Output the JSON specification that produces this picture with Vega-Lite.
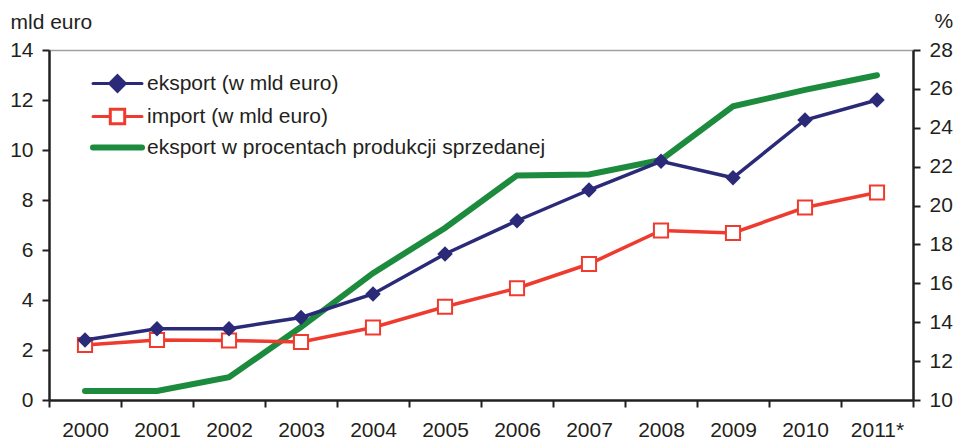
{
  "$schema": "https://vega.github.io/schema/vega-lite/v6.json",
  "width": 864,
  "height": 350,
  "autosize": {"type": "none"},
  "padding": {"left": 49, "top": 50, "right": 44, "bottom": 41},
  "background": "white",
  "config": {
    "font": "Liberation Sans",
    "view": {"stroke": null},
    "axis": {
      "labelFont": "Liberation Sans",
      "titleFont": "Liberation Sans",
      "labelFontSize": 21,
      "labelColor": "#231f20",
      "domainColor": "#231f20",
      "domainWidth": 2.5,
      "tickColor": "#231f20",
      "tickWidth": 2,
      "tickSize": 7,
      "titleFontSize": 21,
      "titleFontWeight": "normal",
      "titleColor": "#231f20"
    }
  },
  "data": {
    "values": [
      {"year": "2000", "series": "eksport (w mld euro)", "value": 2.4},
      {"year": "2001", "series": "eksport (w mld euro)", "value": 2.85},
      {"year": "2002", "series": "eksport (w mld euro)", "value": 2.85},
      {"year": "2003", "series": "eksport (w mld euro)", "value": 3.3},
      {"year": "2004", "series": "eksport (w mld euro)", "value": 4.24},
      {"year": "2005", "series": "eksport (w mld euro)", "value": 5.84},
      {"year": "2006", "series": "eksport (w mld euro)", "value": 7.17},
      {"year": "2007", "series": "eksport (w mld euro)", "value": 8.4},
      {"year": "2008", "series": "eksport (w mld euro)", "value": 9.55},
      {"year": "2009", "series": "eksport (w mld euro)", "value": 8.89},
      {"year": "2010", "series": "eksport (w mld euro)", "value": 11.2},
      {"year": "2011*", "series": "eksport (w mld euro)", "value": 12.0},
      {"year": "2000", "series": "import (w mld euro)", "value": 2.2},
      {"year": "2001", "series": "import (w mld euro)", "value": 2.4},
      {"year": "2002", "series": "import (w mld euro)", "value": 2.38},
      {"year": "2003", "series": "import (w mld euro)", "value": 2.32},
      {"year": "2004", "series": "import (w mld euro)", "value": 2.9},
      {"year": "2005", "series": "import (w mld euro)", "value": 3.73},
      {"year": "2006", "series": "import (w mld euro)", "value": 4.47},
      {"year": "2007", "series": "import (w mld euro)", "value": 5.44},
      {"year": "2008", "series": "import (w mld euro)", "value": 6.78},
      {"year": "2009", "series": "import (w mld euro)", "value": 6.68},
      {"year": "2010", "series": "import (w mld euro)", "value": 7.7},
      {"year": "2011*", "series": "import (w mld euro)", "value": 8.3},
      {"year": "2000", "series": "eksport w procentach produkcji sprzedanej", "value": 10.46},
      {"year": "2001", "series": "eksport w procentach produkcji sprzedanej", "value": 10.46},
      {"year": "2002", "series": "eksport w procentach produkcji sprzedanej", "value": 11.17},
      {"year": "2003", "series": "eksport w procentach produkcji sprzedanej", "value": 13.75},
      {"year": "2004", "series": "eksport w procentach produkcji sprzedanej", "value": 16.52},
      {"year": "2005", "series": "eksport w procentach produkcji sprzedanej", "value": 18.85},
      {"year": "2006", "series": "eksport w procentach produkcji sprzedanej", "value": 21.55},
      {"year": "2007", "series": "eksport w procentach produkcji sprzedanej", "value": 21.6},
      {"year": "2008", "series": "eksport w procentach produkcji sprzedanej", "value": 22.35},
      {"year": "2009", "series": "eksport w procentach produkcji sprzedanej", "value": 25.1},
      {"year": "2010", "series": "eksport w procentach produkcji sprzedanej", "value": 25.95},
      {"year": "2011*", "series": "eksport w procentach produkcji sprzedanej", "value": 26.7}
    ]
  },
  "encoding": {
    "x": {
      "field": "year",
      "type": "ordinal",
      "scale": {
        "domain": ["2000", "2001", "2002", "2003", "2004", "2005", "2006", "2007", "2008", "2009", "2010", "2011*"],
        "paddingInner": 0,
        "paddingOuter": 0
      },
      "axis": {
        "title": null,
        "labelAngle": 0,
        "tickBand": "extent",
        "labelPadding": 12,
        "encode": {"ticks": {"update": {"y": {"value": -7}}}}
      }
    }
  },
  "layer": [
    {
      "transform": [{"filter": "datum.series === 'eksport w procentach produkcji sprzedanej'"}],
      "mark": {"type": "line", "strokeWidth": 6, "strokeCap": "round", "strokeJoin": "miter"},
      "encoding": {
        "y": {
          "field": "value",
          "type": "quantitative",
          "scale": {"domain": [10, 28], "nice": false, "zero": false},
          "axis": {
            "orient": "right",
            "values": [10, 12, 14, 16, 18, 20, 22, 24, 26, 28],
            "title": "%",
            "titleAngle": 0,
            "titleX": 21,
            "titleY": -23,
            "titleAlign": "left",
            "titleBaseline": "alphabetic",
            "labelPadding": 9,
            "grid": false,
            "encode": {"ticks": {"update": {"x": {"value": -7}}}}
          }
        },
        "color": {
          "field": "series",
          "type": "nominal",
          "scale": {
            "domain": ["eksport (w mld euro)", "import (w mld euro)", "eksport w procentach produkcji sprzedanej"],
            "range": ["#2b2a78", "#ef3b2f", "#1d8b3d"]
          },
          "legend": {
            "orient": "none",
            "legendX": 58,
            "legendY": 23,
            "title": null,
            "padding": 0,
            "labelFontSize": 21,
            "labelFont": "Liberation Sans",
            "labelColor": "#231f20",
            "labelLimit": 700,
            "symbolSize": 400,
            "labelOffset": 19,
            "rowPadding": 5,
            "encode": {
              "symbols": {
                "update": {
                  "shape": {"signal": "datum.value === 'eksport (w mld euro)' ? 'M-2.45,0H2.45M0,-0.78L0.78,0L0,0.78L-0.78,0Z' : datum.value === 'import (w mld euro)' ? 'M-2.45,0H-0.72M0.72,0H2.45M-0.72,-0.72H0.72V0.72H-0.72Z' : 'M-2.45,0H2.45'"},
                  "strokeWidth": {"signal": "datum.value === 'eksport w procentach produkcji sprzedanej' ? 6 : 3"},
                  "stroke": {"signal": "datum.value === 'eksport (w mld euro)' ? '#2b2a78' : datum.value === 'import (w mld euro)' ? '#ef3b2f' : '#1d8b3d'"},
                  "fill": {"signal": "datum.value === 'eksport (w mld euro)' ? '#2b2a78' : datum.value === 'import (w mld euro)' ? '#ffffff' : 'transparent'"},
                  "fillOpacity": {"value": 1},
                  "strokeOpacity": {"value": 1},
                  "opacity": {"value": 1},
                  "strokeCap": {"value": "round"}
                }
              }
            }
          }
        }
      }
    },
    {
      "encoding": {
        "y": {
          "field": "value",
          "type": "quantitative",
          "scale": {"domain": [0, 14], "nice": false},
          "axis": {
            "orient": "left",
            "values": [0, 2, 4, 6, 8, 10, 12, 14],
            "title": "mld euro",
            "titleAngle": 0,
            "titleX": -39,
            "titleY": -22,
            "titleAlign": "left",
            "titleBaseline": "alphabetic",
            "labelPadding": 9,
            "grid": true,
            "gridColor": "#a0a0a2",
            "gridWidth": 1.5,
            "gridOpacity": {"condition": {"test": "datum.value == 14", "value": 1}, "value": 0},
            "encode": {"ticks": {"update": {"x": {"value": 7}}}}
          }
        }
      },
      "layer": [
        {
          "transform": [{"filter": "datum.series === 'import (w mld euro)'"}],
          "mark": {"type": "line", "strokeWidth": 3.5, "color": "#ef3b2f"}
        },
        {
          "transform": [{"filter": "datum.series === 'import (w mld euro)'"}],
          "mark": {"type": "point", "shape": "square", "filled": true, "fill": "#ffffff", "stroke": "#ef3b2f", "strokeWidth": 2, "size": 200, "opacity": 1}
        },
        {
          "transform": [{"filter": "datum.series === 'eksport (w mld euro)'"}],
          "mark": {"type": "line", "strokeWidth": 3.5, "color": "#2b2a78"}
        },
        {
          "transform": [{"filter": "datum.series === 'eksport (w mld euro)'"}],
          "mark": {"type": "point", "shape": "diamond", "filled": true, "color": "#2b2a78", "size": 240, "opacity": 1}
        }
      ]
    }
  ],
  "resolve": {"scale": {"y": "independent"}}
}
